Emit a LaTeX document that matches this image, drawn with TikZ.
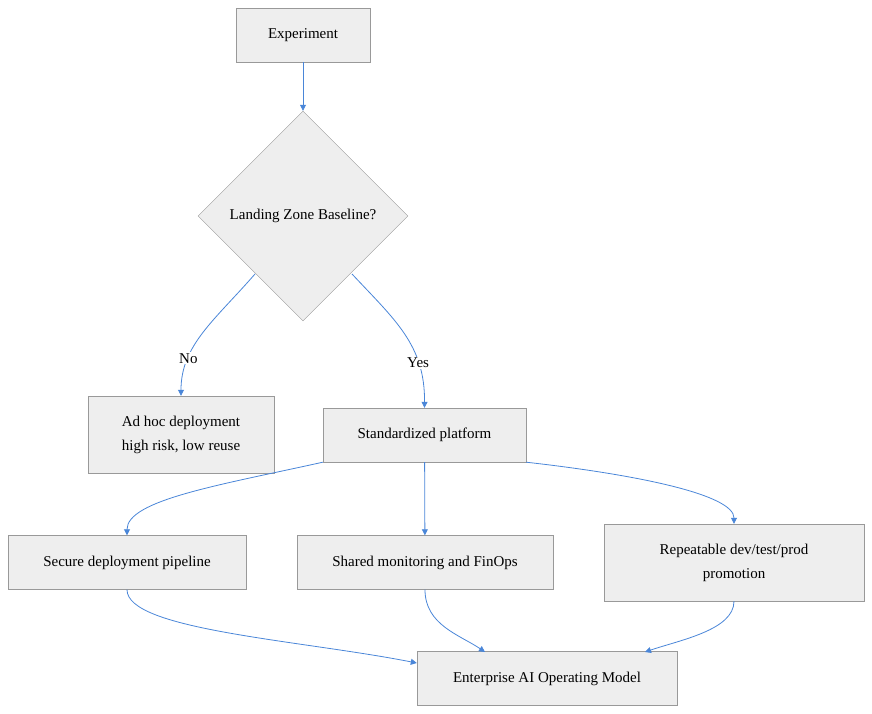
\documentclass[tikz,border=0pt]{standalone}
\usepackage{fontspec}
\setmainfont{Liberation Serif}
\usetikzlibrary{shapes.geometric,arrows.meta}
\definecolor{boxfill}{HTML}{EEEEEE}
\definecolor{boxline}{HTML}{999999}
\definecolor{arr}{HTML}{4A86D8}
\begin{document}
\begin{tikzpicture}[x=1pt,y=-1pt,
  box/.style={draw=boxline,fill=boxfill,minimum height=54pt,align=center,font=\fontsize{15}{24}\selectfont,inner sep=0pt},
  dia/.style={draw=boxline,fill=boxfill,diamond,minimum width=210pt,minimum height=210pt,inner sep=0pt,aspect=1,font=\fontsize{15}{24}\selectfont},
  con/.style={draw=arr,line width=0.8pt,-{Triangle[length=6pt,width=6pt]}},
  lbl/.style={fill=white,inner sep=1pt,font=\fontsize{15}{18}\selectfont}]
\useasboundingbox (0,0) rectangle (872,714);
\node[box,minimum width=134pt] (exp) at (303,35) {Experiment};
\node[dia] (lz) at (303,216) {Landing Zone Baseline?};
\node[box,minimum width=186pt,minimum height=77pt] (adhoc) at (181,434.5) {Ad hoc deployment\\high risk, low reuse};
\node[box,minimum width=203pt] (std) at (424.5,435) {Standardized platform};
\node[box,minimum width=238pt] (sec) at (127,562.5) {Secure deployment pipeline};
\node[box,minimum width=256pt] (mon) at (425,562.5) {Shared monitoring and FinOps};
\node[box,minimum width=260pt,minimum height=77pt] (rep) at (734,562.5) {Repeatable dev/test/prod\\promotion};
\node[box,minimum width=260pt] (ent) at (547,678.5) {Enterprise AI Operating Model};
\coordinate (nl) at (255,274);
\coordinate (yl) at (352,274);
\draw[con] (exp) -- (lz);
\draw[con] (nl) .. controls (215,320) and (181,345) .. node[lbl,pos=0.72]{No} (adhoc.north);
\draw[con] (yl) .. controls (395,320) and (425,345) .. node[lbl,pos=0.72]{Yes} (std.north);
\draw[con] (std.south west) .. controls (220,485) and (127,500) .. (sec.north);
\draw[con] (std) -- (mon);
\draw[con] (std.south east) .. controls (640,475) and (734,495) .. (rep.north);
\draw[con] (sec.south) .. controls (127,630) and (300,640) .. (ent.west |- 0,663);
\draw[con] (mon.south) .. controls (425,625) and (460,635) .. (485,652);
\draw[con] (rep.south) .. controls (734,630) and (680,640) .. (645,652);
\end{tikzpicture}
\end{document}
